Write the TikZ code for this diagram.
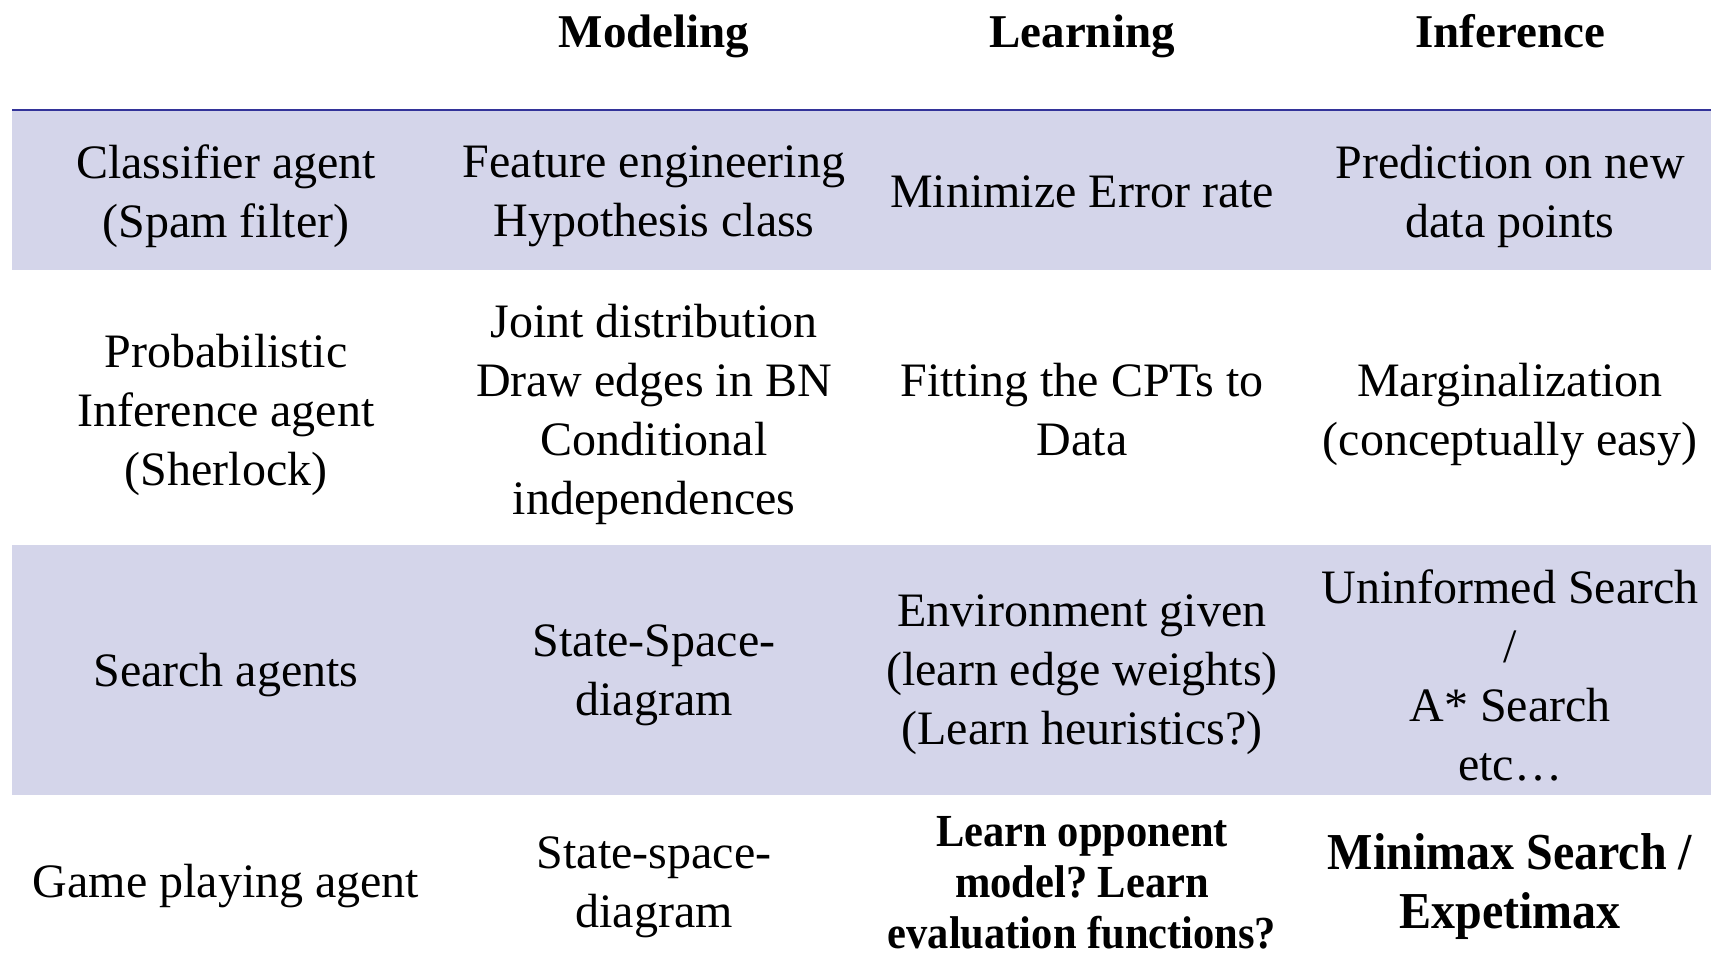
\documentclass[tikz,border=0pt]{standalone}
\usepackage{fontspec}
\setmainfont{Liberation Serif}
\usepackage{graphicx}
\frenchspacing
\definecolor{bandfill}{RGB}{212,213,234}
\definecolor{ruleblue}{RGB}{51,51,153}
\tikzset{
  cell/.style={align=center, inner sep=0pt, font=\fontsize{48}{59}\selectfont},
  head/.style={align=center, inner sep=0pt, anchor=base, font=\fontsize{47}{56}\selectfont\bfseries},
  boldcell/.style={align=center, inner sep=0pt, font=\fontsize{48}{59}\selectfont\bfseries},
  smallbold/.style={align=center, inner sep=0pt, font=\fontsize{42.5}{51}\selectfont\bfseries},
  band/.style={fill=bandfill, draw=none},
  headrule/.style={draw=ruleblue, line width=2.5pt}
}
\newcommand{\tallish}[1]{\scalebox{1}[1.08]{#1}}
\begin{document}
\begin{tikzpicture}[x=1pt,y=-1pt]
  \useasboundingbox (0,0) rectangle (1711,962);
  % shaded rows
  \fill[band] (12,110) rectangle (1711,270);
  \fill[band] (12,545) rectangle (1711,795);
  % rule under the column headings
  \coordinate (ruleL) at (12,110);
  \coordinate (ruleR) at (1711,110);
  \draw[headrule] (ruleL) -- (ruleR);

  % column headings, sharing one baseline
  \node[head] (hmod) at (654,47.5) {Modeling};
  \node[head] (hlrn) at (1082,47.5) {Learning};
  \node[head] (hinf) at (1510,47.5) {Inference};

  % row 1
  \node[cell] (r1a) at (226,196) {Classifier agent\\(Spam filter)};
  \node[cell] (r1m) at (654,196) {Feature engineering\\Hypothesis class};
  \node[cell] (r1l) at (1082,192) {Minimize Error rate};
  \node[cell] (r1i) at (1510,196) {Prediction on new\\data points};

  % row 2
  \node[cell] (r2a) at (226,414.5) {Probabilistic\\Inference agent\\(Sherlock)};
  \node[cell] (r2m) at (654,414.5) {Joint distribution\\Draw edges in BN\\Conditional\\independences};
  \node[cell] (r2l) at (1082,410) {Fitting the CPTs to\\Data};
  \node[cell] (r2i) at (1510,414.5) {Marginalization\\(conceptually easy)};

  % row 3
  \node[cell] (r3a) at (226,675) {Search agents};
  \node[cell] (r3m) at (654,675) {State-Space-\\diagram};
  \node[cell] (r3l) at (1082,675) {Environment given\\(learn edge weights)\\(Learn heuristics?)};
  \node[cell] (r3i) at (1510,675) {Uninformed Search\\/\\A* Search\\etc\dots};

  % row 4
  \node[cell] (r4a) at (226,886) {Game playing agent};
  \node[cell] (r4m) at (654,887) {State-space-\\diagram};
  \node[smallbold] (r4l) at (1082,883) {\tallish{Learn opponent}\\\tallish{model? Learn}\\\tallish{evaluation functions?}};
  \node[boldcell] (r4i) at (1510,887) {\tallish{Minimax Search /}\\\tallish{Expetimax}};
\end{tikzpicture}
\end{document}
